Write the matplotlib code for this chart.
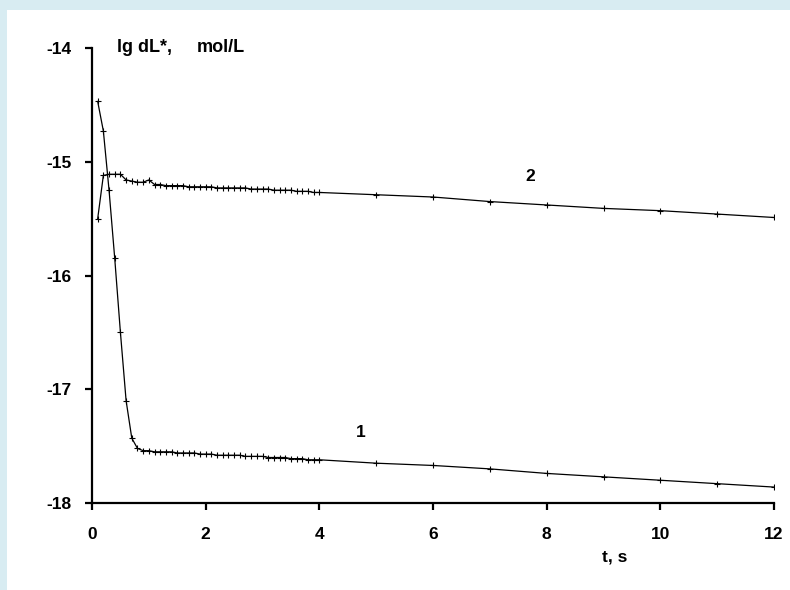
import numpy as np
import matplotlib
matplotlib.use("Agg")
import matplotlib.pyplot as plt
from matplotlib.patches import Rectangle

# time, s
t = [0.1, 0.2, 0.3, 0.4, 0.5, 0.6, 0.7, 0.8, 0.9, 1.0,
     1.1, 1.2, 1.3, 1.4, 1.5, 1.6, 1.7, 1.8, 1.9, 2.0,
     2.1, 2.2, 2.3, 2.4, 2.5, 2.6, 2.7, 2.8, 2.9, 3.0,
     3.1, 3.2, 3.3, 3.4, 3.5, 3.6, 3.7, 3.8, 3.9, 4.0,
     5, 6, 7, 8, 9, 10, 11, 12]

# curve 1
lg1 = [-14.47, -14.73, -15.25, -15.85, -16.50, -17.10, -17.43, -17.52, -17.54, -17.54,
       -17.55, -17.55, -17.55, -17.55, -17.56, -17.56, -17.56, -17.56, -17.57, -17.57,
       -17.57, -17.58, -17.58, -17.58, -17.58, -17.58, -17.59, -17.59, -17.59, -17.59,
       -17.60, -17.60, -17.60, -17.60, -17.61, -17.61, -17.61, -17.62, -17.62, -17.62,
       -17.65, -17.67, -17.70, -17.74, -17.77, -17.80, -17.83, -17.86]

# curve 2
lg2 = [-15.50, -15.12, -15.11, -15.11, -15.11, -15.16, -15.17, -15.18, -15.18, -15.16,
       -15.20, -15.20, -15.21, -15.21, -15.21, -15.21, -15.22, -15.22, -15.22, -15.22,
       -15.22, -15.23, -15.23, -15.23, -15.23, -15.23, -15.23, -15.24, -15.24, -15.24,
       -15.24, -15.25, -15.25, -15.25, -15.25, -15.26, -15.26, -15.26, -15.27, -15.27,
       -15.29, -15.31, -15.35, -15.38, -15.41, -15.43, -15.46, -15.49]

xticks = [0, 2, 4, 6, 8, 10, 12]
yticks = [-14, -15, -16, -17, -18]

plt.rcParams['font.family'] = ['Liberation Sans', 'DejaVu Sans']
plt.rcParams['font.weight'] = 'bold'

fig = plt.figure(figsize=(7.9, 5.9), dpi=100)
fig.patch.set_facecolor('#d8ecf2')
panel = Rectangle((7 / 790, 0), 1, 580 / 590, transform=fig.transFigure,
                  facecolor='white', edgecolor='none', zorder=-10)
fig.add_artist(panel)

ax = fig.add_axes([92 / 790, 1 - 503 / 590, 682 / 790, 455 / 590])
ax.set_facecolor('none')
ax.set_zorder(5)

ax.plot(t, lg1, color='black', lw=0.9, marker='+', ms=4, mew=0.8)
ax.plot(t, lg2, color='black', lw=0.9, marker='+', ms=4, mew=0.8)

ax.set_xlim(0, 12)
ax.set_ylim(-18, -14)
ax.set_xticks(xticks)
ax.set_yticks(yticks)
ax.set_xticklabels([str(v) for v in xticks], fontsize=12.5, fontweight='bold')
ax.set_yticklabels([str(v) for v in yticks], fontsize=12.5, fontweight='bold')

for s in ['top', 'right']:
    ax.spines[s].set_visible(False)
for s in ['left', 'bottom']:
    ax.spines[s].set_linewidth(1.6)
ax.tick_params(axis='both', direction='out', length=5, width=1.6)
ax.tick_params(axis='x', pad=12)
ax.tick_params(axis='y', pad=10)

ax.text(0.44, -14.0, 'lg dL*,', fontsize=13, fontweight='bold', va='center')
ax.text(1.85, -14.0, 'mol/L', fontsize=13, fontweight='bold', va='center')
ax.text(8.97, -18.475, 't, s', fontsize=12.5, fontweight='bold', ha='left', va='center')
ax.text(4.72, -17.38, '1', fontsize=12.5, fontweight='bold', ha='center', va='center')
ax.text(7.71, -15.13, '2', fontsize=12.5, fontweight='bold', ha='center', va='center')

fig.savefig('out.png', dpi=100, facecolor=fig.get_facecolor())
